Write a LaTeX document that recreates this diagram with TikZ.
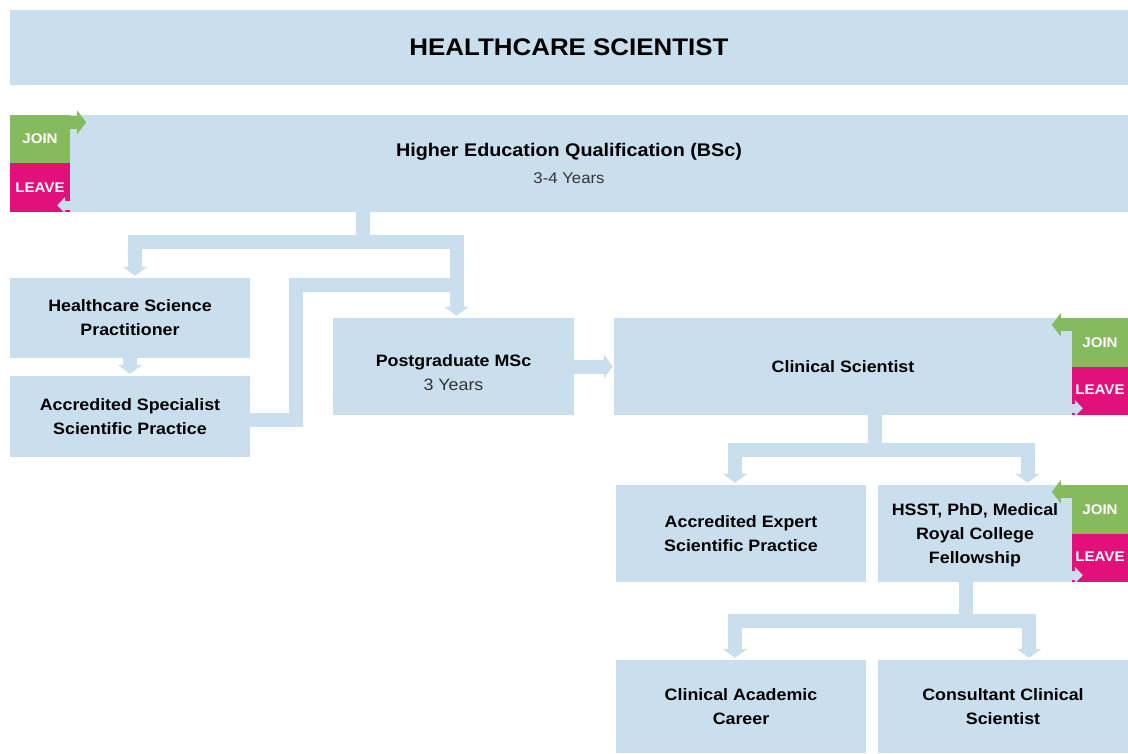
\documentclass[tikz,border=0pt]{standalone}
\usepackage{fontspec}
\setmainfont{Liberation Sans}[FakeStretch=1.08]
\usetikzlibrary{arrows.meta}
\definecolor{paleblue}{RGB}{201,223,238}
\definecolor{joingreen}{RGB}{133,186,94}
\definecolor{leavepink}{RGB}{226,16,122}
\tikzset{>={Triangle[width=24pt,length=9pt]}}

\begin{document}
\begin{tikzpicture}[x=1pt,y=-1pt,
  box/.style={fill=paleblue,inner sep=0pt,align=center,font=\fontsize{16.5}{24}\selectfont\bfseries},
  bar/.style={draw=paleblue,line width=14pt},
  tag/.style={inner sep=0pt,text=white,minimum width=56pt,font=\fontsize{14}{18}\selectfont\bfseries},
  joinbar/.style={draw=joingreen,line width=13pt,-{Triangle[width=23pt,length=9pt]}},
  leavebar/.style={draw=paleblue,line width=9pt,-{Triangle[width=16pt,length=8pt]}}]
\useasboundingbox (0,0) rectangle (1128,753);
\node[box,minimum width=1118pt,minimum height=75pt,font=\fontsize{24}{28}\selectfont\bfseries] (title) at (569,47.5) {HEALTHCARE SCIENTIST};
\node[box,minimum width=1118pt,minimum height=97pt,font=\fontsize{18.3}{26}\selectfont\bfseries] (hei) at (569,163.5) {Higher Education Qualification (BSc)\\[1pt]{\fontsize{15.5}{20}\selectfont\mdseries\color{black!80}3-4 Years}};
\node[box,minimum width=240pt,minimum height=80pt] (hsp) at (130,318) {Healthcare Science\\Practitioner};
\node[box,minimum width=240pt,minimum height=81pt] (assp) at (130,416.5) {Accredited Specialist\\Scientific Practice};
\node[box,minimum width=241pt,minimum height=97pt] (msc) at (453.5,366.5) {\rule{0pt}{24pt}Postgraduate MSc\\{\mdseries\color{black!80}3 Years}};
\node[box,minimum width=458pt,minimum height=97pt] (cs) at (843,366.5) {Clinical Scientist};
\node[box,minimum width=250pt,minimum height=97pt] (aesp) at (741,533.5) {Accredited Expert\\Scientific Practice};
\node[box,minimum width=194pt,minimum height=97pt] (hsst) at (975,533.5) {\rule{0pt}{16pt}HSST, PhD, Medical\\Royal College\\Fellowship};
\node[box,minimum width=250pt,minimum height=93pt] (cac) at (741,706.5) {Clinical Academic\\Career};
\node[box,minimum width=250pt,minimum height=93pt] (ccs) at (1003,706.5) {Consultant Clinical\\Scientist};

\node[tag,fill=joingreen,minimum width=60pt,minimum height=48pt] (join1) at (40,139) {JOIN};
\node[tag,fill=leavepink,minimum width=60pt,minimum height=49pt] (leave1) at (40,187.5) {LEAVE};
\node[tag,fill=joingreen,minimum height=48.5pt] (join2) at (1100,342.25) {JOIN};
\node[tag,fill=leavepink,minimum height=48.5pt] (leave2) at (1100,390.75) {\raisebox{3pt}{LEAVE}};
\node[tag,fill=joingreen,minimum height=48.5pt] (join3) at (1100,509.25) {JOIN};
\node[tag,fill=leavepink,minimum height=48.5pt] (leave3) at (1100,557.75) {\raisebox{3pt}{LEAVE}};

\coordinate (fork1) at (363,242);
\coordinate (lift) at (296,285);
\coordinate (merge) at (463,285);
\coordinate (fork2) at (874.5,449.5);
\coordinate (fork3) at (965.5,620.5);

\draw[bar] (hei.south -| fork1) -- (fork1);
\draw[bar,->] (fork1) -| ([xshift=5pt,yshift=2pt]hsp.north);
\draw[bar,->] (fork1) -| ([xshift=3pt,yshift=2pt]msc.north);
\draw[bar,->] (hsp.south) -- ([yshift=2pt]assp.north);
\draw[bar] ([yshift=-3.5pt]assp.east) -| (lift) -- (merge);
\draw[bar,->] (msc.east) -- ([xshift=-1pt]cs.west);
\draw[bar] (cs.south -| fork2) -- (fork2);
\draw[bar,->] (fork2) -| ([xshift=-6pt,yshift=2pt]aesp.north);
\draw[bar,->] (fork2) -| ([xshift=52.5pt,yshift=2pt]hsst.north);
\draw[bar] (hsst.south -| fork3) -- (fork3);
\draw[bar,->] (fork3) -| ([xshift=-6pt,yshift=2pt]cac.north);
\draw[bar,->] (fork3) -| ([xshift=26pt,yshift=2pt]ccs.north);

\draw[joinbar] ([yshift=-7.5pt]join1.north east) -- ++(16,0);
\draw[leavebar] ([yshift=7pt]leave1.south east) -- ++(-13,0);
\draw[joinbar] ([yshift=-7pt]join2.north west) -- ++(-20,0);
\draw[leavebar] ([yshift=7pt]leave2.south west) -- ++(11,0);
\draw[joinbar] ([yshift=-7pt]join3.north west) -- ++(-20,0);
\draw[leavebar] ([yshift=7pt]leave3.south west) -- ++(11,0);
\end{tikzpicture}
\end{document}
